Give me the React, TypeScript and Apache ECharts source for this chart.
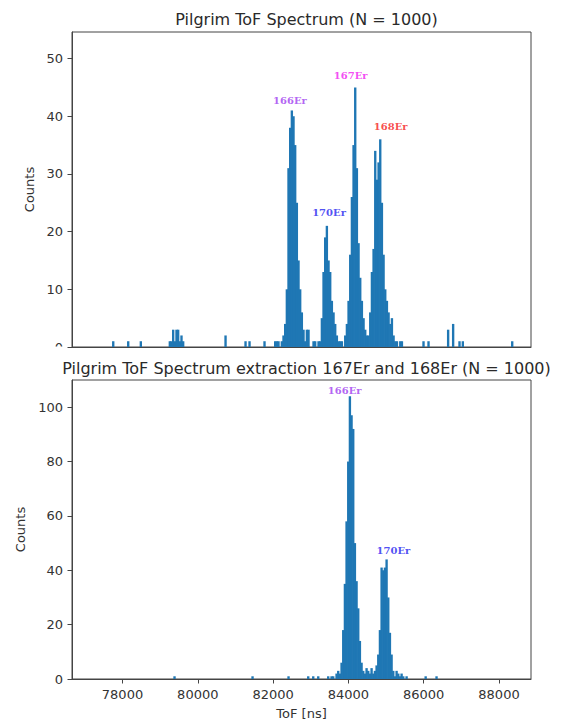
import React, { useEffect, useRef } from "react";
import * as echarts from "echarts";

// ---------- data ----------
const BIN_WIDTH = 44.3; // ns per histogram bin
const X_MIN = 76659;
const X_MAX = 88850;
const X_TICKS = [78000, 80000, 82000, 84000, 86000, 88000];
const TOP_Y_TICKS = [0, 10, 20, 30, 40, 50];
const TOP_Y_MAX = 54.6;
const BOTTOM_Y_TICKS = [0, 20, 40, 60, 80, 100];
const BOTTOM_Y_MAX = 110;

const TOP_TITLE = "Pilgrim ToF Spectrum (N = 1000)";
const BOTTOM_TITLE = "Pilgrim ToF Spectrum extraction 167Er and 168Er (N = 1000)";

// runs of consecutive bins: first bin start (ns) and counts
const TOP_RUNS = [
  { start: 77732, counts: [1] },
  { start: 78130, counts: [1] },
  { start: 78465, counts: [1] },
  { start: 79235, counts: [1, 1, 3, 1, 3, 3, 1, 2, 1] },
  { start: 80715, counts: [2] },
  { start: 81246, counts: [1] },
  { start: 81352, counts: [1] },
  { start: 81750, counts: [1] },
  {
    start: 82033,
    counts: [
      1, 1, 1, 0, 1, 2, 4, 10, 31, 38,
      41, 40, 35, 25, 15, 10, 6, 3, 1, 3,
      3, 0, 0, 1, 1, 0, 1, 1, 5, 13,
      19, 21, 15, 13, 8, 6, 4, 2, 1, 1,
      1, 0, 2, 4, 8, 16, 26, 35, 45, 31,
      18, 12, 8, 5, 3, 2, 2, 6, 13, 17,
      34, 29, 32, 36, 25, 16, 10, 8, 6, 4,
      5, 2, 1, 1, 0, 1, 1,
    ],
  },
  { start: 85973, counts: [1] },
  { start: 86106, counts: [1] },
  { start: 86627, counts: [3, 0, 0, 4] },
  { start: 86929, counts: [1, 0, 1] },
  { start: 88329, counts: [1] },
];

const BOTTOM_RUNS = [
  { start: 79360, counts: [1] },
  { start: 81432, counts: [1] },
  { start: 82388, counts: [1] },
  { start: 82911, counts: [1] },
  { start: 83044, counts: [1] },
  { start: 83177, counts: [1] },
  {
    start: 83442,
    counts: [
      1, 0, 1, 1, 0, 2, 3, 2, 6, 18,
      35, 58, 80, 104, 97, 92, 50, 36, 26, 14,
      6, 3, 2, 4, 3, 2, 4, 2, 3, 5,
      9, 18, 41, 40, 41, 44, 30, 17, 9, 3,
      1, 3, 2, 1, 2, 1, 0, 1,
    ],
  },
  { start: 86030, counts: [1] },
  { start: 86319, counts: [1] },
];

const TOP_LABELS = [
  { name: "166Er", tof: 82449, count: 42.7, color: "#a03cf0" },
  { name: "170Er", tof: 83485, count: 23.3, color: "#2424f0" },
  { name: "167Er", tof: 84061, count: 47.0, color: "#f020f0" },
  { name: "168Er", tof: 85123, count: 38.2, color: "#f52020" },
];
const BOTTOM_LABELS = [
  { name: "166Er", tof: 83902, count: 106.3, color: "#a03cf0" },
  { name: "170Er", tof: 85195, count: 47.2, color: "#2424f0" },
];

// ---------- helpers ----------
function toBins(runs: { start: number; counts: number[] }[]) {
  const out: number[][] = [];
  runs.forEach((r) => {
    r.counts.forEach((c, i) => {
      if (c > 0) {
        const x0 = r.start + i * BIN_WIDTH;
        out.push([x0, x0 + BIN_WIDTH, c]);
      }
    });
  });
  return out;
}

const BAR_COLOR = "#1f77b4";
const AXIS_COLOR = "#444";
const TEXT_COLOR = "#333";
const FONT = "DejaVu Sans";

function renderBin(params: any, api: any) {
  const x0 = api.value(0);
  const x1 = api.value(1);
  const c = api.value(2);
  const p0 = api.coord([x0, c]);
  const p1 = api.coord([x1, 0]);
  return {
    type: "rect",
    shape: {
      x: p0[0] - 0.35,
      y: p0[1],
      width: p1[0] - p0[0] + 0.7,
      height: p1[1] - p0[1],
    },
    style: { fill: BAR_COLOR },
  };
}

function xAxisCfg(grid: number, showLabels: boolean) {
  return {
    type: "value",
    gridIndex: grid,
    min: X_MIN,
    max: X_MAX,
    axisLine: { show: true, onZero: false, lineStyle: { color: AXIS_COLOR, width: 1 } },
    axisTick: {
      show: showLabels,
      customValues: X_TICKS,
      length: 4.5,
      lineStyle: { color: AXIS_COLOR },
    },
    axisLabel: {
      show: showLabels,
      customValues: X_TICKS,
      formatter: (v: number) => String(v),
      fontSize: 13,
      color: TEXT_COLOR,
      fontFamily: FONT,
      margin: 9,
    },
    splitLine: { show: false },
    name: showLabels ? "ToF [ns]" : "",
    nameLocation: "middle",
    nameGap: 28,
    nameTextStyle: { fontSize: 13, color: TEXT_COLOR, fontFamily: FONT },
  };
}

function yAxisCfg(grid: number, max: number, ticks: number[]) {
  return {
    type: "value",
    gridIndex: grid,
    min: 0,
    max,
    axisLine: { show: true, lineStyle: { color: AXIS_COLOR, width: 1 } },
    axisTick: { show: true, customValues: ticks, length: 4.5, lineStyle: { color: AXIS_COLOR } },
    axisLabel: {
      customValues: ticks,
      formatter: (v: number) => String(v),
      fontSize: 13,
      color: TEXT_COLOR,
      fontFamily: FONT,
      margin: 9,
    },
    splitLine: { show: false },
    name: "Counts",
    nameLocation: "middle",
    nameGap: 34,
    nameTextStyle: { fontSize: 13, color: TEXT_COLOR, fontFamily: FONT },
  };
}

function labelSeries(labels: typeof TOP_LABELS, idx: number) {
  return {
    type: "scatter",
    xAxisIndex: idx,
    yAxisIndex: idx,
    symbolSize: 0,
    silent: true,
    z: 5,
    data: labels.map((l) => ({
      name: l.name,
      value: [l.tof, l.count],
      label: { color: l.color },
    })),
    label: {
      show: true,
      position: "inside",
      formatter: "{b}",
      fontFamily: "DejaVu Serif",
      fontWeight: "bold",
      fontSize: 10,
    },
  };
}

export default function App() {
  const ref = useRef<HTMLDivElement>(null);
  useEffect(() => {
    if (!ref.current) return;
    const chart = echarts.init(ref.current, null, { renderer: "svg" });
    const titleStyle = { fontSize: 16, fontWeight: "normal", color: "#2a2a2a", fontFamily: FONT };
    chart.setOption({
      animation: false,
      backgroundColor: "#ffffff",
      title: [
        { text: TOP_TITLE, left: 301.5, top: 6, textAlign: "center", textStyle: titleStyle },
        { text: BOTTOM_TITLE, left: 301.5, top: 355, textAlign: "center", textStyle: titleStyle },
      ],
      grid: [
        { left: 72, top: 32, width: 459, height: 315, show: true, borderColor: AXIS_COLOR, borderWidth: 1, backgroundColor: "transparent" },
        { left: 72, top: 380, width: 459, height: 299, show: true, borderColor: AXIS_COLOR, borderWidth: 1, backgroundColor: "transparent" },
      ],
      xAxis: [xAxisCfg(0, false), xAxisCfg(1, true)],
      yAxis: [yAxisCfg(0, TOP_Y_MAX, TOP_Y_TICKS), yAxisCfg(1, BOTTOM_Y_MAX, BOTTOM_Y_TICKS)],
      series: [
        {
          type: "custom",
          xAxisIndex: 0,
          yAxisIndex: 0,
          renderItem: renderBin,
          encode: { x: [0, 1], y: 2 },
          data: toBins(TOP_RUNS),
          silent: true,
        },
        {
          type: "custom",
          xAxisIndex: 1,
          yAxisIndex: 1,
          renderItem: renderBin,
          encode: { x: [0, 1], y: 2 },
          data: toBins(BOTTOM_RUNS),
          silent: true,
        },
        labelSeries(TOP_LABELS, 0),
        labelSeries(BOTTOM_LABELS, 1),
      ],
      graphic: {
        elements: [
          {
            type: "rect",
            z: 1000,
            silent: true,
            shape: { x: 20, y: 346.5, width: 46, height: 9 },
            style: { fill: "#ffffff" },
          },
        ],
      },
    });
    return () => chart.dispose();
  }, []);
  return (
    <div
      ref={ref}
      style={{ position: "fixed", left: 0, top: 0, width: 565, height: 723 }}
    />
  );
}
